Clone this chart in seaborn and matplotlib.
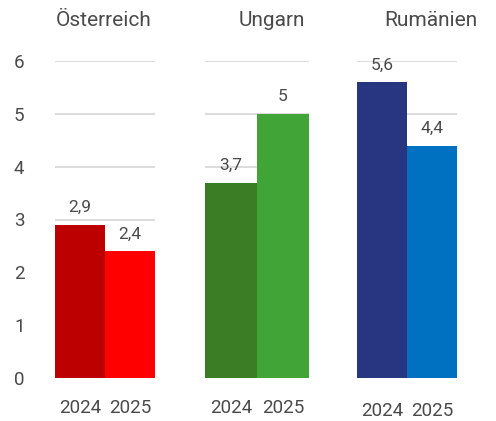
import matplotlib
matplotlib.use("Agg")
import matplotlib.pyplot as plt
import seaborn as sns
import pandas as pd

countries = ["Österreich", "Ungarn", "Rumänien"]
years = ["2024", "2025"]
values = {
    "Österreich": [2.9, 2.4],
    "Ungarn": [3.7, 5.0],
    "Rumänien": [5.6, 4.4],
}
colors = {
    "Österreich": ["#BC0000", "#FF0000"],
    "Ungarn": ["#3B7D24", "#41A436"],
    "Rumänien": ["#283581", "#0070C0"],
}
yticks = [0, 1, 2, 3, 4, 5, 6]

sns.set_style("white")
plt.rcParams["font.family"] = ["Roboto", "DejaVu Sans"]
TXT = "#4a4a4a"

W, H = 496, 421
fig = plt.figure(figsize=(W / 100, H / 100), dpi=100)

# pixel layout of each panel: (left, right)
panels = [(55, 155), (205, 309), (357, 457)]
title_x = [104, 272, 431]
xlabel_pad = [15, 15, 17]
y0, y6 = 378, 61

for i, c in enumerate(countries):
    l, r = panels[i]
    ax = fig.add_axes([l / W, (H - y0) / H, (r - l) / W, (y0 - y6) / H])
    df = pd.DataFrame({"year": years, "value": values[c]})
    sns.barplot(data=df, x="year", y="value", hue="year", palette=colors[c],
                width=1.0, legend=False, ax=ax, saturation=1, zorder=3,
                linewidth=0, edgecolor="none")
    ax.set_xlim(-0.5, 1.5)
    ax.set_ylim(0, 6)
    ax.set_yticks(yticks)
    ax.grid(axis="y", color="#d9d9d9", linewidth=1.3, zorder=0)
    ax.set_axisbelow(True)
    for s in ax.spines.values():
        s.set_visible(False)
    ax.set_xlabel("")
    ax.set_ylabel("")
    ax.tick_params(axis="x", length=0, pad=xlabel_pad[i], labelsize=13.5, labelcolor=TXT)
    ax.tick_params(axis="y", length=0, pad=22, labelsize=13.5, labelcolor=TXT)
    if i > 0:
        ax.set_yticklabels([])
    for xi, v in enumerate(values[c]):
        lab = f"{v:g}".replace(".", ",")
        ax.annotate(lab, (xi, v), xytext=(0, 7), textcoords="offset points",
                    ha="center", va="bottom", fontsize=12.5, color=TXT, zorder=5,
                    annotation_clip=False)
    fig.text(title_x[i] / W, 1 - 20 / H, c, ha="center", va="center",
             fontsize=15, color=TXT)

fig.savefig("out.png", dpi=100)
